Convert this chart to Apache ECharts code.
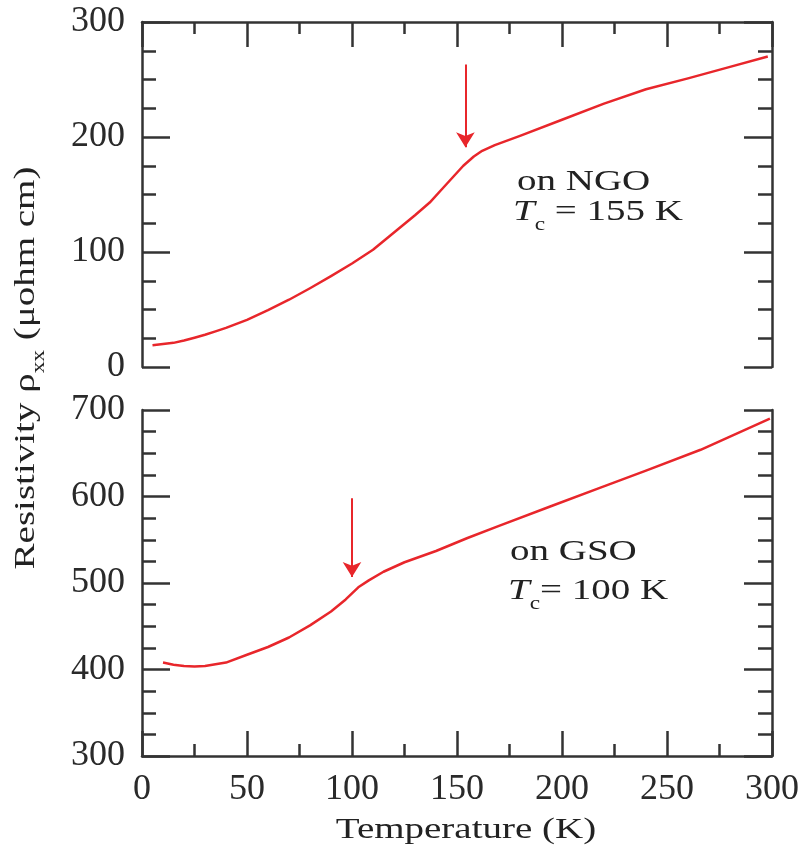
<!DOCTYPE html>
<html>
<head>
<meta charset="utf-8">
<script src="https://cdn.jsdelivr.net/npm/echarts@6/dist/echarts.min.js"></script>
<style>
html, body { margin: 0; padding: 0; background: #fff; }
#chart { width: 806px; height: 865px; }
</style>
</head>
<body>
<div id="chart"></div>
<script>
// film on NGO (top panel)
var ngoTemp = [5, 10, 15, 20, 25, 30, 35, 40, 50, 60, 70, 80, 90, 100, 110, 120, 130, 137, 143, 148, 153, 158, 162, 168, 180, 200, 220, 240, 260, 280, 298];
var ngoRho  = [19, 20, 21, 23, 25.5, 28, 31, 34, 41, 49.5, 58.5, 68.5, 79, 90, 102, 117, 132, 143, 155, 165, 175, 183, 188, 193, 201, 215, 229, 241.5, 251, 261, 270];
// film on GSO (bottom panel)
var gsoTemp = [10, 15, 20, 25, 30, 40, 50, 60, 70, 80, 90, 97, 103, 108, 115, 125, 140, 155, 170, 195, 218, 240, 266, 299];
var gsoRho  = [408, 405.5, 404, 403.5, 404, 408, 417, 426, 437, 451, 467, 481, 495, 503, 513, 524, 537, 552, 566, 589, 610, 630, 654, 690];
// arrows: [T, from rho, to rho]
var ngoArrow = [154, 263, 191];
var gsoArrow = [100, 598, 507];
// axis ranges: [min, max, interval]
var tempRange = [0, 300, 50];
var ngoRange = [0, 300, 100];
var gsoRange = [300, 700, 100];

var red = '#e8262b';
var ink = '#333';
var serif = 'Liberation Serif';

function pairs(xs, ys) {
    return xs.map(function (x, i) { return [x, ys[i]]; });
}

var lineSt = { color: ink, width: 2.5 };

function xAx(grid, pos, labels) {
    return {
        gridIndex: grid, type: 'value', position: pos,
        min: tempRange[0], max: tempRange[1], interval: tempRange[2],
        axisLine: { show: true, onZero: false, lineStyle: lineSt },
        axisTick: { show: true, inside: true, length: 25, lineStyle: lineSt },
        minorTick: { show: true, splitNumber: 2, length: 12, lineStyle: lineSt },
        axisLabel: { show: labels, margin: 16, fontFamily: serif, fontSize: 36, color: '#2a2a2a' },
        splitLine: { show: false }
    };
}

function yAx(grid, pos, range, labels) {
    return {
        gridIndex: grid, type: 'value', position: pos,
        min: range[0], max: range[1], interval: range[2],
        axisLine: { show: true, onZero: false, lineStyle: lineSt },
        axisTick: { show: true, inside: true, length: 28, lineStyle: lineSt },
        minorTick: { show: true, splitNumber: 4, length: 14, lineStyle: lineSt },
        axisLabel: { show: labels, margin: 17, fontFamily: serif, fontSize: 36, color: '#2a2a2a' },
        splitLine: { show: false }
    };
}

function arrow(a) {
    return {
        silent: true,
        symbol: ['none', 'arrow'],
        symbolSize: [14, 15],
        lineStyle: { color: red, width: 2, type: 'solid' },
        label: { show: false },
        data: [[{ coord: [a[0], a[1]] }, { coord: [a[0], a[2]] }]]
    };
}

var rich = {
    a: { fontFamily: serif, fontSize: 30, color: '#222', lineHeight: 44 },
    i: { fontFamily: serif, fontSize: 30, fontStyle: 'italic', color: '#222', lineHeight: 44 },
    s: { fontFamily: serif, fontSize: 18, color: '#222', lineHeight: 16, verticalAlign: 'bottom' }
};

function label(x, y, text, opts) {
    opts = opts || {};
    return {
        type: 'text', x: x, y: y,
        rotation: opts.rotation || 0,
        scaleX: 1.3, scaleY: 1,
        silent: true,
        style: {
            text: text, rich: rich,
            fontFamily: serif, fontSize: 30, fill: '#222',
            align: opts.align || 'left', textAlign: opts.align || 'left',
            verticalAlign: 'middle', textVerticalAlign: 'middle'
        }
    };
}

var chart = echarts.init(document.getElementById('chart'));
chart.setOption({
    animation: false,
    backgroundColor: '#fff',
    grid: [
        { left: 142, right: 34, top: 22, height: 345 },
        { left: 142, right: 34, top: 410, height: 346 }
    ],
    xAxis: [
        { gridIndex: 0, type: 'value', min: tempRange[0], max: tempRange[1], show: false },
        xAx(0, 'top', false),
        xAx(1, 'bottom', true)
    ],
    yAxis: [
        yAx(0, 'left', ngoRange, true),
        yAx(0, 'right', ngoRange, false),
        yAx(1, 'left', gsoRange, true),
        yAx(1, 'right', gsoRange, false)
    ],
    series: [
        {
            name: 'on NGO', type: 'line', xAxisIndex: 0, yAxisIndex: 0,
            data: pairs(ngoTemp, ngoRho),
            showSymbol: false,
            lineStyle: { color: red, width: 2.5, join: 'round' },
            markLine: arrow(ngoArrow)
        },
        {
            name: 'on GSO', type: 'line', xAxisIndex: 2, yAxisIndex: 2,
            data: pairs(gsoTemp, gsoRho),
            showSymbol: false,
            lineStyle: { color: red, width: 2.5, join: 'round' },
            markLine: arrow(gsoArrow)
        }
    ],
    graphic: [
        label(517, 182, '{a|on NGO}'),
        label(513, 212, '{i|T}{s|c}{a| = 155 K}'),
        label(510, 552, '{a|on GSO}'),
        label(508, 591, '{i|T}{s|c}{a|= 100 K}'),
        label(466, 830, '{a|Temperature (K)}', { align: 'center' }),
        label(26, 368, '{a|Resistivity ρ}{s|xx}{a| (μohm cm)}', { align: 'center', rotation: Math.PI / 2 })
    ]
});
</script>
</body>
</html>
